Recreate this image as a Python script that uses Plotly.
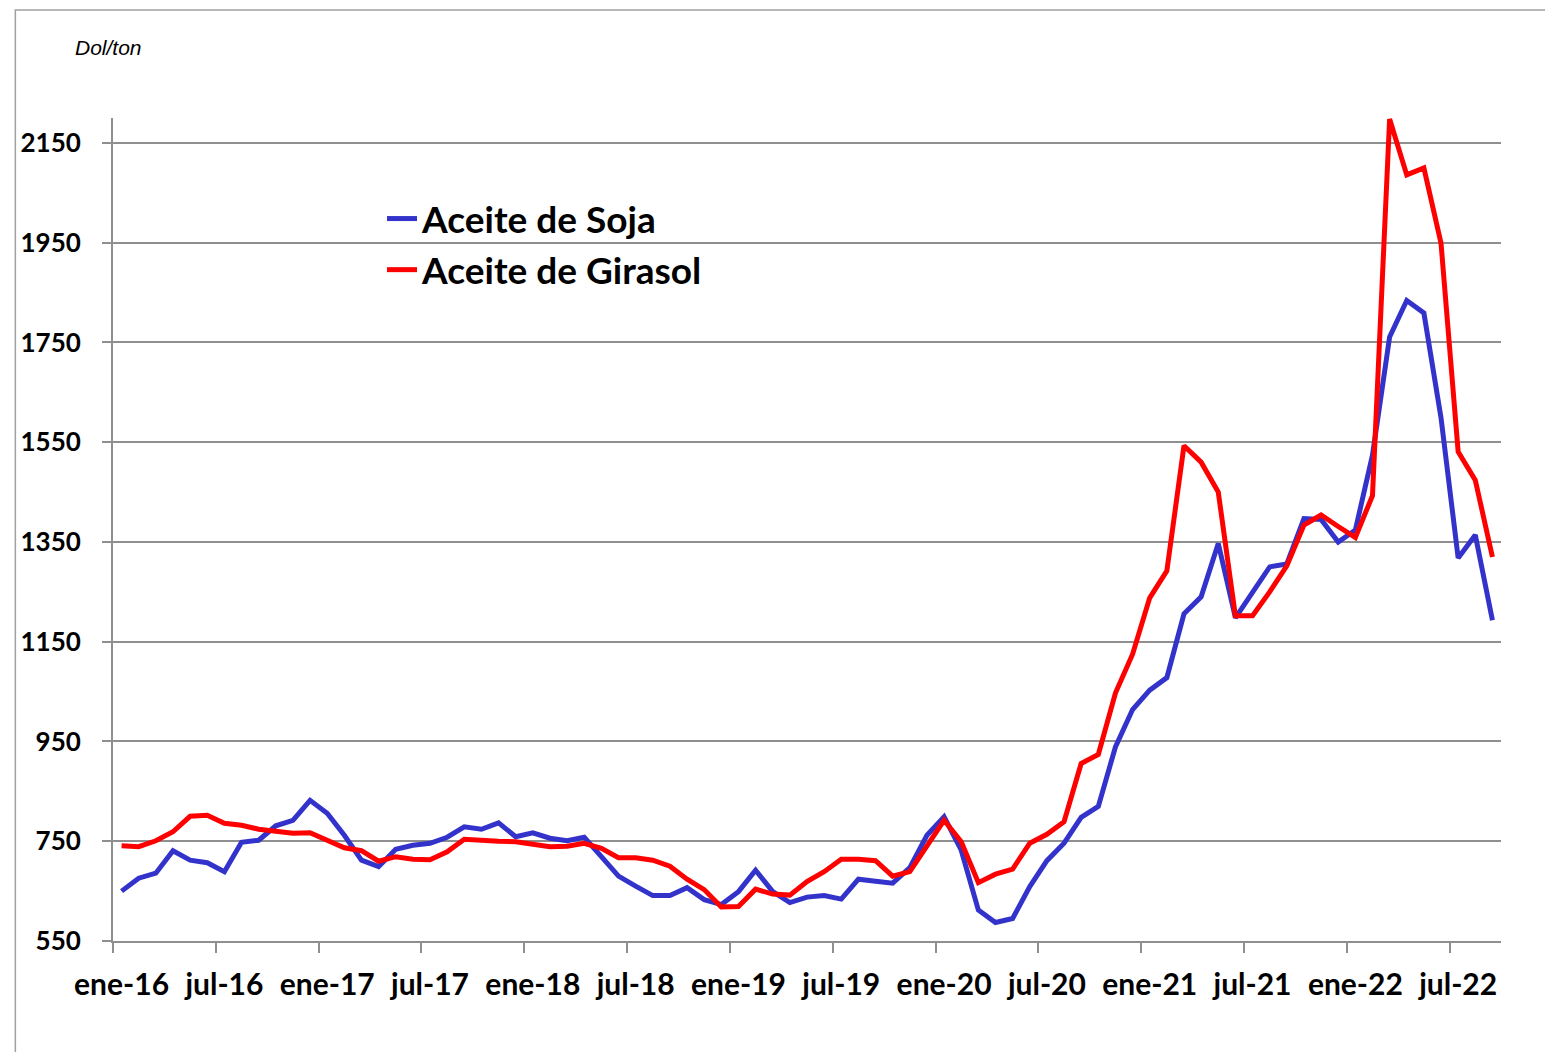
import plotly.graph_objects as go

months_es = ["ene", "feb", "mar", "abr", "may", "jun", "jul", "ago", "sep", "oct", "nov", "dic"]
categories = [f"{months_es[m]}-{16 + y}" for y in range(7) for m in range(12)][:81]

soja = [650, 676, 686, 731, 712, 707, 689, 748, 752, 781, 792, 832,
        806, 762, 712, 699, 734, 742, 746, 758, 779, 774, 787, 759,
        767, 756, 751, 758, 719, 680, 660, 641, 641, 657, 633, 623,
        649, 692, 649, 627, 638, 641, 634, 674, 670, 666, 697, 762,
        799, 732, 612, 587, 595, 659, 711, 746, 798, 820, 939, 1014,
        1053, 1078, 1206, 1240, 1347, 1198, 1249, 1300, 1306, 1397, 1395, 1350,
        1374, 1524, 1761, 1834, 1809, 1599, 1318, 1364, 1193]

girasol = [741, 739, 751, 769, 800, 802, 786, 782, 774, 769, 766, 767,
           752, 737, 731, 710, 719, 714, 713, 729, 754, 751, 750, 749,
           744, 739, 740, 746, 736, 717, 717, 712, 700, 674, 653, 618,
           619, 654, 644, 642, 669, 689, 714, 714, 711, 680, 689, 739,
           792, 749, 667, 684, 694, 746, 764, 789, 906, 924, 1047, 1125,
           1238, 1292, 1543, 1510, 1450, 1202, 1202, 1250, 1302, 1384, 1404, 1381,
           1359, 1443, 2198, 2086, 2100, 1949, 1531, 1474, 1320]

y_ticks = [550, 750, 950, 1150, 1350, 1550, 1750, 1950, 2150]

GRID = "#8f8f8f"
FONT = "Lato"
W, H = 1537, 1044
PW, PH = 1393, 823  # plot area size in px

fig = go.Figure()
fig.add_trace(go.Scatter(x=categories, y=soja, mode="lines", name="Aceite de Soja",
                         line=dict(color="#3333CC", width=5)))
fig.add_trace(go.Scatter(x=categories, y=girasol, mode="lines", name="Aceite de Girasol",
                         line=dict(color="#FF0000", width=5)))

fig.update_layout(
    width=W, height=H,
    margin=dict(l=100, r=W - 100 - PW, t=110, b=H - 110 - PH),
    paper_bgcolor="white", plot_bgcolor="white",
    showlegend=True,
    legend=dict(x=(378 - 108) / PW, y=(941 - 188) / PH, xanchor="left", yanchor="top",
                bgcolor="rgba(0,0,0,0)", tracegroupgap=0,
                font=dict(family=FONT, size=37, color="black", weight="bold")),
    annotations=[dict(text="<i>Dol/ton</i>", xref="paper", yref="paper",
                      x=(68 - 108) / PW, y=(941 - 48) / PH, xanchor="left", yanchor="middle",
                      showarrow=False, font=dict(family="Liberation Sans", size=21, color="black"))],
    shapes=[dict(type="rect", xref="paper", yref="paper",
                 x0=(10 - 108) / PW, x1=1.2, y0=-0.3, y1=(941 - 10) / PH,
                 line=dict(color="#a0a0a0", width=1.5), fillcolor="rgba(0,0,0,0)", layer="below")],
)

fig.update_xaxes(type="category", categoryorder="array", categoryarray=categories,
                 range=[-0.5, len(categories) - 0.5],
                 tickmode="linear", tick0=0, dtick=6, tickson="boundaries", tickangle=0,
                 ticks="outside", ticklen=10, tickwidth=2, tickcolor=GRID,
                 showgrid=False, showline=True, linecolor=GRID, linewidth=2,
                 ticklabelstandoff=16,
                 tickfont=dict(family=FONT, size=30, color="black", weight="bold"))
fig.update_yaxes(range=[550, 2200], tickvals=y_ticks, ticktext=[str(v) for v in y_ticks],
                 ticks="outside", ticklen=9, tickwidth=2, tickcolor=GRID,
                 showgrid=True, gridcolor=GRID, gridwidth=2,
                 showline=True, linecolor=GRID, linewidth=2, zeroline=False,
                 ticklabelstandoff=16,
                 tickfont=dict(family=FONT, size=26, color="black", weight="bold"))

fig.write_html("out.html")
